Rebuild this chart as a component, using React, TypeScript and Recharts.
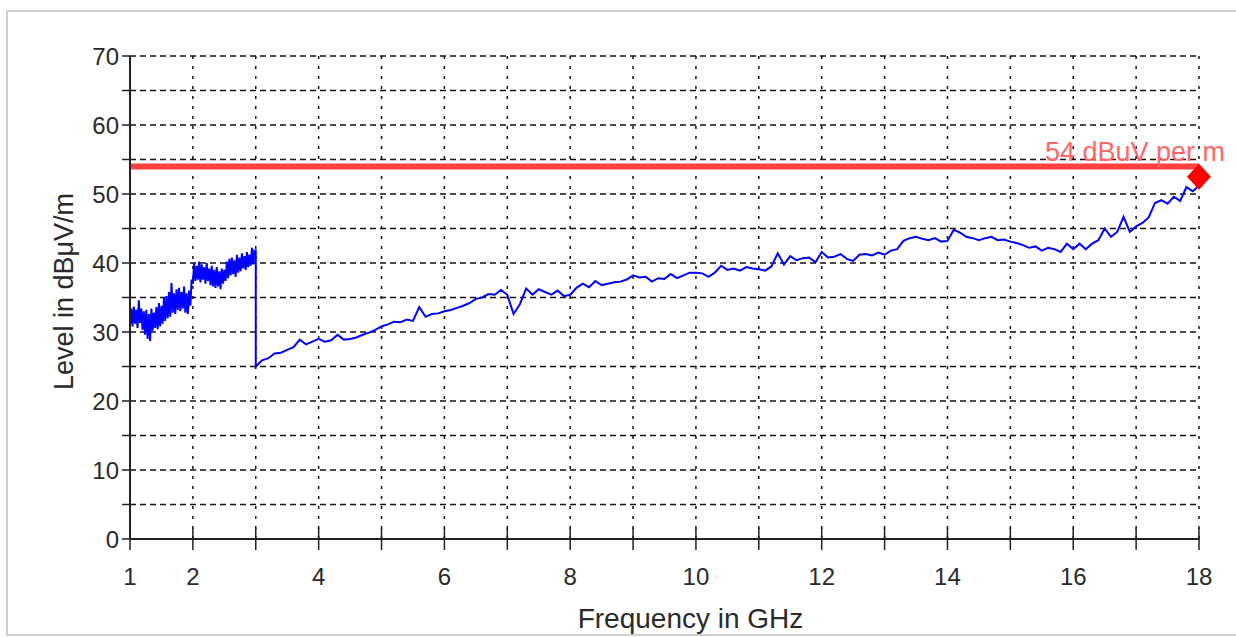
import { ComposedChart, Line, XAxis, YAxis, CartesianGrid, ReferenceLine, ReferenceDot } from 'recharts';

const FREQ_TICKS = [1, 2, 3, 4, 5, 6, 7, 8, 9, 10, 11, 12, 13, 14, 15, 16, 17, 18];
const FREQ_LABELS = [1, 2, 4, 6, 8, 10, 12, 14, 16, 18];
const LEVEL_TICKS = [0, 5, 10, 15, 20, 25, 30, 35, 40, 45, 50, 55, 60, 65, 70];

// 1-3 GHz sweep, 20 MHz steps (noisy band)
const BAND_START = 1;
const BAND_STEP = 0.02;
const bandLevels = [
  31.0, 33.4, 30.8, 33.7, 31.2, 33.2, 30.6, 34.6, 31.3, 33.4,
  30.3, 33.0, 29.6, 33.2, 29.0, 32.6, 28.7, 33.4, 30.2, 32.8,
  30.6, 33.6, 30.4, 34.2, 30.8, 33.8, 31.2, 35.0, 31.6, 35.2,
  32.0, 35.8, 32.2, 37.1, 32.8, 35.6, 32.6, 36.2, 33.2, 36.4,
  33.0, 35.8, 33.4, 36.6, 32.8, 35.6, 32.6, 36.0, 33.8, 37.6,
  37.0, 40.0, 37.4, 39.6, 37.6, 40.2, 37.2, 39.8, 37.6, 39.4,
  37.0, 40.0, 37.4, 39.2, 36.8, 39.6, 36.6, 39.0, 36.4, 39.4,
  36.6, 38.8, 36.2, 39.2, 37.0, 39.0, 37.4, 40.2, 37.8, 40.6,
  38.2, 40.8, 38.4, 40.4, 38.0, 41.2, 38.6, 40.8, 38.8, 41.4,
  39.2, 41.0, 39.0, 41.6, 39.4, 41.2, 39.6, 42.2, 39.8, 41.8,
  41.8,
];

// 3-18 GHz sweep, 100 MHz steps
const TRACE_START = 3;
const TRACE_STEP = 0.1;
const traceLevels = [
  25.0, 25.9, 26.2, 26.9, 27.0, 27.4, 27.8, 28.9, 28.2, 28.6,
  29.0, 28.6, 28.8, 29.6, 28.9, 29.0, 29.2, 29.6, 29.9, 30.3,
  30.8, 31.1, 31.5, 31.4, 31.8, 31.6, 33.6, 32.2, 32.6, 32.7,
  33.0, 33.2, 33.5, 33.8, 34.2, 34.8, 35.0, 35.5, 35.4, 36.1,
  35.4, 32.6, 34.0, 36.3, 35.4, 36.2, 35.8, 35.4, 36.0, 35.2,
  35.4, 36.4, 37.0, 36.5, 37.4, 36.8, 37.0, 37.2, 37.3, 37.6,
  38.2, 37.9, 38.0, 37.3, 37.8, 37.7, 38.4, 37.8, 38.2, 38.6,
  38.6, 38.5, 38.0, 38.6, 39.6, 39.0, 39.2, 38.9, 39.4, 39.2,
  39.1, 38.9, 39.5, 41.4, 39.8, 41.0, 40.4, 40.7, 40.8, 40.1,
  41.6, 40.8, 40.9, 41.3, 40.6, 40.3, 41.2, 41.3, 41.1, 41.5,
  41.2, 41.8, 42.0, 43.2, 43.6, 43.8, 43.5, 43.3, 43.6, 43.1,
  43.2, 44.8, 44.4, 43.8, 43.6, 43.3, 43.6, 43.8, 43.3, 43.4,
  43.1, 42.9, 42.6, 42.2, 42.4, 41.8, 42.2, 42.0, 41.6, 42.8,
  42.0, 42.8, 42.0, 42.8, 43.3, 45.0, 43.8, 44.5, 46.7, 44.5,
  45.3, 45.8, 46.6, 48.7, 49.1, 48.6, 49.6, 49.0, 51.0, 50.4,
  51.2,
];

const LIMIT = 54;
const LIMIT_LABEL = '54 dBuV per m';
const MARKER = { f: 18, v: 52.5 };

const data = [
  ...bandLevels.map((v, i) => ({ f: +(BAND_START + i * BAND_STEP).toFixed(2), v })),
  ...traceLevels.map((v, i) => ({ f: +(TRACE_START + i * TRACE_STEP).toFixed(1), v })),
];

const TEXT = '#2a2a2a';

function FreqTick({ x, y, payload }: any) {
  return (
    <g>
      <line x1={x} x2={x} y1={y - 11} y2={y + 11} stroke="#222" strokeWidth={1.5} />
      {FREQ_LABELS.includes(payload.value) && (
        <text x={x} y={y + 46} textAnchor="middle" fontSize={24} fill={TEXT}>
          {payload.value}
        </text>
      )}
    </g>
  );
}

function FreqTitle({ viewBox }: any) {
  return (
    <text x={viewBox.x + viewBox.width / 2 + 26} y={viewBox.y + 89} textAnchor="middle" fontSize={28} fill={TEXT}>
      Frequency in GHz
    </text>
  );
}

function LevelTitle({ viewBox }: any) {
  const cx = viewBox.x + 64;
  const cy = viewBox.y + viewBox.height / 2 - 6;
  return (
    <text
      x={cx}
      y={cy}
      transform={`rotate(-90 ${cx} ${cy})`}
      textAnchor="middle"
      dominantBaseline="central"
      fontSize={27}
      fill={TEXT}
    >
      Level in dBμV/m
    </text>
  );
}

function LimitTag({ viewBox }: any) {
  return (
    <text x={viewBox.x + viewBox.width + 26} y={viewBox.y - 5} textAnchor="end" fontSize={27} fill="#ff6666">
      {LIMIT_LABEL}
    </text>
  );
}

function Diamond({ cx, cy }: any) {
  return <polygon points={`${cx},${cy - 13} ${cx + 12},${cy} ${cx},${cy + 13} ${cx - 12},${cy}`} fill="#ff0000" />;
}

export default function App() {
  return (
    <div style={{ position: 'absolute', left: 0, top: 0, width: 1236, height: 637, overflow: 'hidden', background: '#fff', fontFamily: '"Liberation Sans", Arial, sans-serif' }}>
      <div style={{ position: 'absolute', left: 6, top: 10, width: 1260, height: 626, border: '2px solid #cfcfcf', boxSizing: 'border-box' }} />
      <div style={{ position: 'absolute', left: 0, top: 0 }}>
        <ComposedChart width={1236} height={637} data={data} margin={{ top: 56, right: 37, bottom: 0, left: 0 }}>
          <CartesianGrid horizontal={true} vertical={false} stroke="#111" strokeWidth={1.5} strokeDasharray="6 4" />
          <CartesianGrid horizontal={false} vertical={true} stroke="#111" strokeWidth={1.5} strokeDasharray="3 7" />
          <XAxis
            type="number"
            dataKey="f"
            domain={[1, 18]}
            ticks={FREQ_TICKS}
            interval={0}
            height={98}
            tickSize={0}
            tickMargin={0}
            tick={<FreqTick />}
            axisLine={{ stroke: '#222', strokeWidth: 2 }}
            label={<FreqTitle />}
          />
          <YAxis
            type="number"
            domain={[0, 70]}
            ticks={LEVEL_TICKS}
            interval={0}
            width={130}
            tickSize={8}
            tickMargin={3}
            tickFormatter={(v: number) => (v % 10 === 0 ? String(v) : '')}
            tick={{ fontSize: 24, fill: TEXT }}
            tickLine={{ stroke: '#222', strokeWidth: 1.5 }}
            axisLine={{ stroke: '#222', strokeWidth: 2 }}
            label={<LevelTitle />}
          />
          <ReferenceLine y={LIMIT} stroke="#ff4040" strokeWidth={6} label={<LimitTag />} />
          <Line
            type="linear"
            dataKey="v"
            stroke="#0000ff"
            strokeWidth={2}
            dot={false}
            activeDot={false}
            isAnimationActive={false}
          />
          <ReferenceDot x={MARKER.f} y={MARKER.v} r={12} shape={(p: any) => <Diamond {...p} />} />
        </ComposedChart>
      </div>
    </div>
  );
}
